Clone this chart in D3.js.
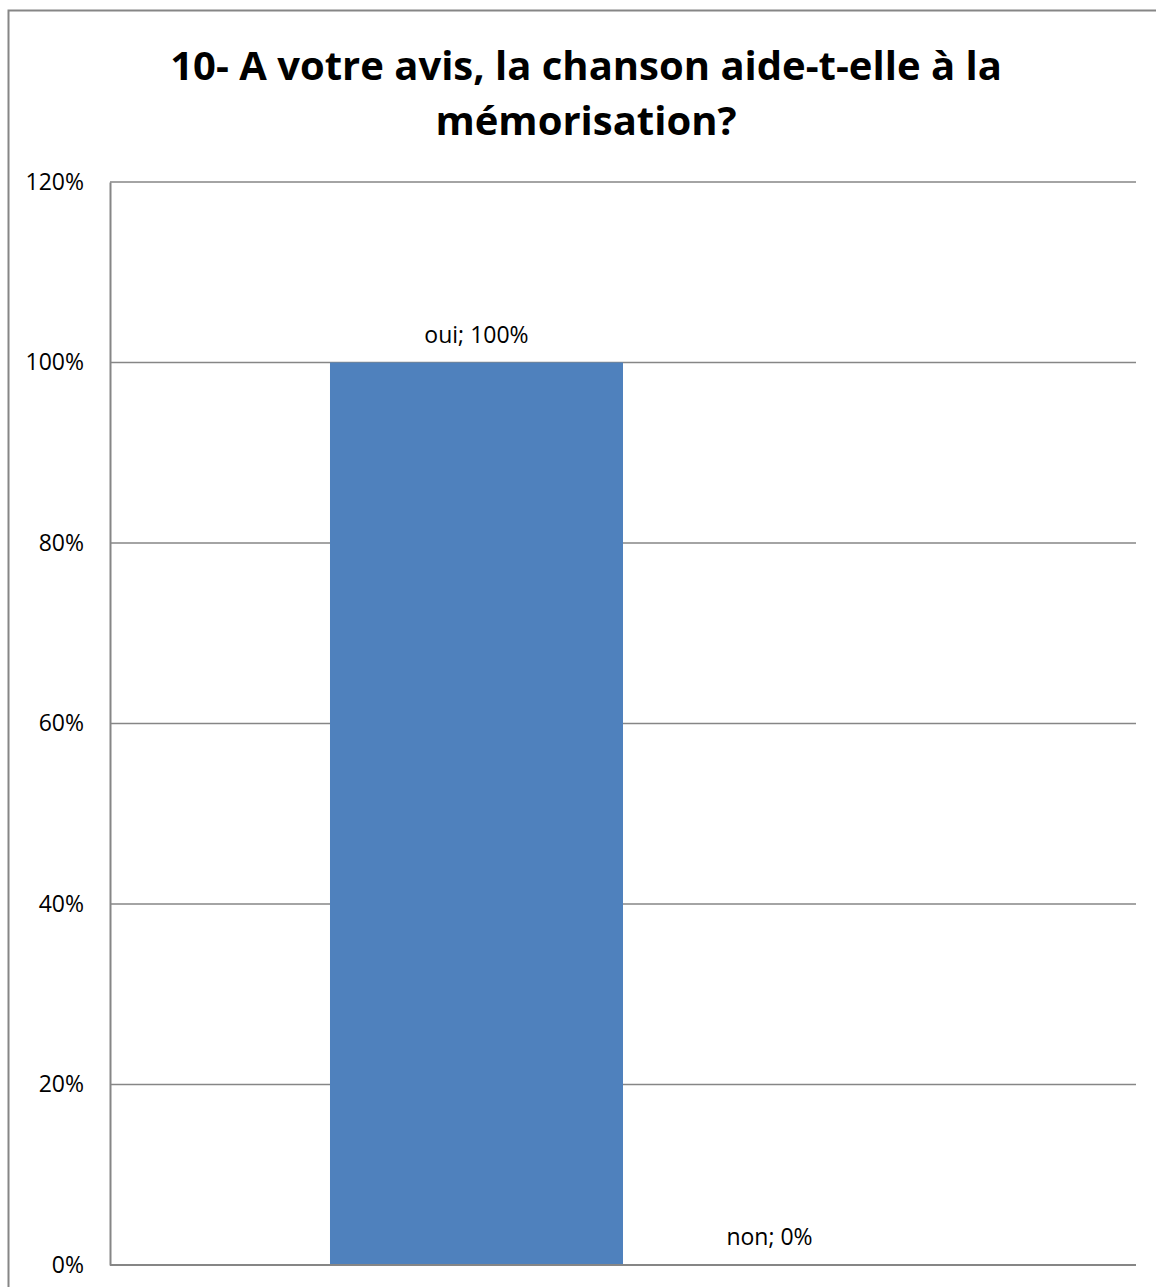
<!DOCTYPE html>
<html lang="fr">
<head>
    <meta charset="UTF-8">
    <title>10- A votre avis, la chanson aide-t-elle à la mémorisation?</title>
    <script src="https://d3js.org/d3.v7.min.js"></script>
    <style>
        body {
            margin: 0;
            padding: 0;
            background-color: white;
            font-family: "Open Sans", sans-serif;
        }
    </style>
</head>
<body>
    <div id="chart"></div>

    <script>
        // data
        const categories = [""];
        const series = ["oui", "non"];
        const values = [1.0, 0.0];
        const yTicks = [0, 0.2, 0.4, 0.6, 0.8, 1.0, 1.2];
        const titleLines = ["10- A votre avis, la chanson aide-t-elle à la", "mémorisation?"];

        const width = 1156, height = 1287;
        const plot = { left: 110, right: 1136, top: 182, bottom: 1265 };

        const svg = d3.select("#chart")
            .append("svg")
            .attr("width", width)
            .attr("height", height);

        // outer chart frame
        svg.append("rect")
            .attr("x", 8.5)
            .attr("y", 10.5)
            .attr("width", 1160)
            .attr("height", 1300)
            .attr("fill", "white")
            .attr("stroke", "#868686")
            .attr("stroke-width", 2);

        // title
        svg.append("text")
            .attr("text-anchor", "middle")
            .attr("font-weight", "bold")
            .attr("font-size", "40px")
            .attr("fill", "#000")
            .selectAll("tspan")
            .data(titleLines)
            .enter().append("tspan")
            .attr("x", 586)
            .attr("y", (d, i) => 80 + i * 55)
            .text(d => d);

        const y = d3.scaleLinear()
            .domain([0, 1.2])
            .range([plot.bottom, plot.top]);

        // one category, two clustered series, gap width 150%
        const x0 = d3.scaleBand()
            .domain(categories)
            .range([plot.left, plot.right])
            .paddingInner(0)
            .paddingOuter(0.3754);

        const x1 = d3.scaleBand()
            .domain(series)
            .range([0, x0.bandwidth()]);

        // gridlines
        svg.append("g")
            .selectAll("line")
            .data(yTicks.filter(d => d > 0))
            .enter().append("line")
            .attr("x1", plot.left)
            .attr("x2", plot.right)
            .attr("y1", d => y(d))
            .attr("y2", d => y(d))
            .attr("stroke", "#868686")
            .attr("stroke-width", 1.5);

        // bars
        const group = svg.append("g")
            .attr("transform", `translate(${x0(categories[0])},0)`);

        group.selectAll("rect")
            .data(series)
            .enter().append("rect")
            .attr("x", d => x1(d))
            .attr("width", x1.bandwidth())
            .attr("y", (d, i) => y(values[i]))
            .attr("height", (d, i) => y(0) - y(values[i]))
            .attr("fill", "#4F81BD");

        // data labels
        group.selectAll("text")
            .data(series)
            .enter().append("text")
            .attr("x", d => x1(d) + x1.bandwidth() / 2)
            .attr("y", (d, i) => y(values[i]) - 20)
            .attr("text-anchor", "middle")
            .attr("font-size", "23px")
            .attr("fill", "#000")
            .text((d, i) => `${d}; ${d3.format(".0%")(values[i])}`);

        // y axis
        const yAxis = d3.axisLeft(y)
            .tickValues(yTicks)
            .tickFormat(d3.format(".0%"))
            .tickSize(0)
            .tickPadding(26);

        const axisG = svg.append("g")
            .attr("transform", `translate(${plot.left},0)`)
            .call(yAxis);

        axisG.select(".domain")
            .attr("stroke", "#868686")
            .attr("stroke-width", 2);

        axisG.selectAll("text")
            .attr("font-family", "Open Sans, sans-serif")
            .attr("font-size", "23px")
            .attr("fill", "#000");

        // bottom axis line
        svg.append("line")
            .attr("x1", plot.left)
            .attr("x2", plot.right)
            .attr("y1", plot.bottom)
            .attr("y2", plot.bottom)
            .attr("stroke", "#868686")
            .attr("stroke-width", 2);
    </script>
</body>
</html>
